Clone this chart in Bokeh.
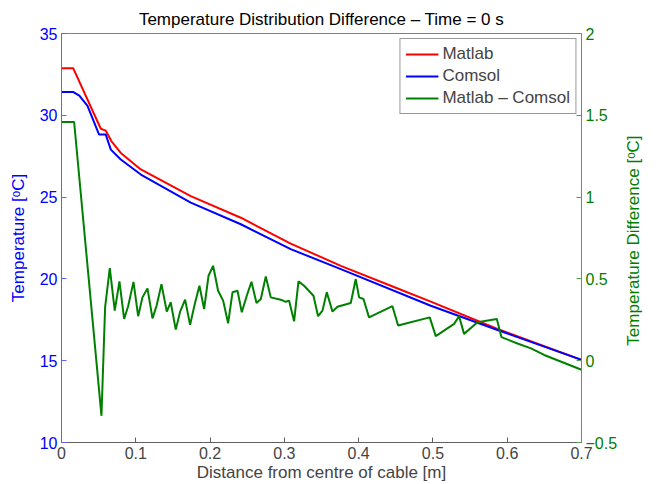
import math
from bokeh.plotting import figure
from bokeh.models import (Range1d, LinearAxis, FixedTicker, CustomJSTickFormatter,
                          Legend, LegendItem)
from bokeh.embed import file_html
from bokeh.resources import INLINE

# ---- data ----
matlab_x = [0.0, 0.0157, 0.0529, 0.0596, 0.0673, 0.0798, 0.1068, 0.174, 0.2414,
            0.3085, 0.376, 0.45, 0.4971, 0.5869, 0.7]
matlab_t = [32.88, 32.88, 29.18, 29.06, 28.41, 27.7, 26.69, 25.06, 23.74,
            22.16, 20.80, 19.46, 18.61, 16.94, 15.05]

comsol_x = [0.0, 0.016, 0.024, 0.035, 0.0506, 0.0596, 0.0664, 0.0798, 0.1068,
            0.174, 0.2414, 0.3085, 0.376, 0.4971, 0.5869, 0.7]
comsol_t = [31.42, 31.42, 31.2, 30.58, 28.82, 28.82, 27.9, 27.3, 26.38,
            24.66, 23.34, 21.82, 20.6, 18.36, 16.88, 15.05]

diff_x = [0.0, 0.017, 0.0538, 0.0587, 0.065, 0.0717, 0.078, 0.0843, 0.0897, 0.0969,
          0.1032, 0.109, 0.1157, 0.1225, 0.128, 0.1346, 0.1417, 0.147, 0.1538, 0.1597,
          0.1664, 0.1731, 0.1794, 0.1857, 0.192, 0.1979, 0.2041, 0.2108, 0.2176, 0.2243,
          0.2302, 0.2369, 0.2427, 0.2494, 0.2557, 0.2625, 0.2683, 0.275, 0.2817, 0.2952,
          0.3019, 0.3064, 0.3131, 0.319, 0.3266, 0.3392, 0.3454, 0.3513, 0.3571, 0.3648,
          0.3715, 0.3894, 0.3961, 0.4006, 0.4065, 0.414, 0.4455, 0.4531, 0.4957, 0.5038,
          0.5285, 0.5352, 0.5419, 0.560, 0.586, 0.5923, 0.6138, 0.632, 0.6497, 0.7]
diff_d = [1.459, 1.459, -0.337, 0.326, 0.566, 0.306, 0.485, 0.255, 0.333, 0.482,
          0.272, 0.387, 0.442, 0.259, 0.336, 0.468, 0.300, 0.357, 0.190, 0.300,
          0.373, 0.219, 0.347, 0.458, 0.316, 0.519, 0.580, 0.428, 0.367, 0.229,
          0.418, 0.428, 0.296, 0.397, 0.482, 0.353, 0.377, 0.515, 0.387, 0.373,
          0.360, 0.367, 0.241, 0.485, 0.458, 0.397, 0.272, 0.306, 0.418, 0.300,
          0.330, 0.353, 0.499, 0.387, 0.377, 0.265, 0.333, 0.215, 0.265, 0.150,
          0.225, 0.272, 0.164, 0.235, 0.255, 0.144, 0.105, 0.075, 0.035, -0.055]

x_ticks = [0, 0.1, 0.2, 0.3, 0.4, 0.5, 0.6, 0.7]
t_ticks = [10, 15, 20, 25, 30, 35]
d_ticks = [-0.5, 0, 0.5, 1, 1.5, 2]

FONT = "Liberation Sans"
BLUE = "#0000ff"
RED = "#ff0000"
GREEN = "#008000"
RIGHT_TITLE = "Temperature Difference [\u1d52C]"

fmt = CustomJSTickFormatter(code="return (Math.round(tick*100)/100).toString().replace('-', '\u2212');")

p = figure(width=657, height=484, output_backend="svg", toolbar_location=None,
           x_range=Range1d(0, 0.7), y_range=Range1d(10, 35),
           min_border_left=61, min_border_right=76, min_border_top=33, min_border_bottom=40,
           title="Temperature Distribution Difference \u2013 Time = 0 s")
p.extra_y_ranges = {"diff": Range1d(-0.5, 2)}

p.title.align = "center"
p.title.text_font = FONT
p.title.text_font_size = "17px"
p.title.text_font_style = "normal"
p.title.text_color = "#000000"
p.title.standoff = 10

p.grid.visible = False
p.outline_line_color = "#808080"
p.outline_line_width = 1
p.background_fill_color = "white"
p.border_fill_color = "white"

r_m = p.line(matlab_x, matlab_t, line_color=RED, line_width=2)
r_c = p.line(comsol_x, comsol_t, line_color=BLUE, line_width=2)
r_d = p.line(diff_x, diff_d, line_color=GREEN, line_width=2, y_range_name="diff")

# bottom axis
xa = p.xaxis[0]
xa.ticker = FixedTicker(ticks=x_ticks)
xa.formatter = fmt
xa.axis_label = "Distance from centre of cable [m]"
xa.axis_label_text_font = FONT
xa.axis_label_text_font_size = "17px"
xa.axis_label_text_font_style = "normal"
xa.axis_label_standoff = 1
xa.major_label_text_font = FONT
xa.major_label_text_font_size = "16px"
xa.major_label_standoff = 4
xa.major_tick_in = 5
xa.major_tick_out = 0
xa.minor_tick_in = 0
xa.minor_tick_out = 0
xa.axis_line_color = "#606060"
xa.major_tick_line_color = "#606060"

# left axis
ya = p.yaxis[0]
ya.ticker = FixedTicker(ticks=t_ticks)
ya.formatter = fmt
ya.axis_label = "Temperature [\u1d52C]"
ya.axis_label_text_font = FONT
ya.axis_label_text_font_size = "17px"
ya.axis_label_text_font_style = "normal"
ya.axis_label_text_color = BLUE
ya.axis_label_standoff = 9
ya.major_label_text_font = FONT
ya.major_label_text_font_size = "16px"
ya.major_label_text_color = BLUE
ya.major_label_standoff = 4
ya.major_tick_in = 5
ya.major_tick_out = 0
ya.minor_tick_in = 0
ya.minor_tick_out = 0
ya.axis_line_color = "#6060ff"
ya.major_tick_line_color = "#6060ff"

# right axis (ticks)
ra = LinearAxis(y_range_name="diff", ticker=FixedTicker(ticks=d_ticks), formatter=fmt)
ra.major_label_text_font = FONT
ra.major_label_text_font_size = "16px"
ra.major_label_text_color = GREEN
ra.major_label_standoff = 4
ra.major_tick_in = 5
ra.major_tick_out = 0
ra.minor_tick_in = 0
ra.minor_tick_out = 0
ra.axis_line_color = "#50a050"
ra.major_tick_line_color = "#50a050"
p.add_layout(ra, "right")

# right axis title, reading bottom to top as in the original
# (drawn as a single rotated label anchored where the text starts)
title_fmt = CustomJSTickFormatter(code="return '" + RIGHT_TITLE + "';")
ra2 = LinearAxis(y_range_name="diff", ticker=FixedTicker(ticks=[0.092]), formatter=title_fmt)
ra2.major_label_orientation = math.pi / 2
ra2.major_label_text_font = FONT
ra2.major_label_text_font_size = "17px"
ra2.major_label_text_color = GREEN
ra2.major_label_standoff = 13
ra2.major_tick_in = 0
ra2.major_tick_out = 0
ra2.minor_tick_in = 0
ra2.minor_tick_out = 0
ra2.axis_line_color = None
ra2.major_tick_line_color = None
ra2.minor_tick_line_color = None
p.add_layout(ra2, "right")

legend = Legend(items=[LegendItem(label="Matlab", renderers=[r_m]),
                       LegendItem(label="Comsol", renderers=[r_c]),
                       LegendItem(label="Matlab \u2013 Comsol", renderers=[r_d])],
                location="top_right")
legend.margin = 5
legend.padding = 5
legend.spacing = 2
legend.glyph_width = 33
legend.glyph_height = 20
legend.label_height = 20
legend.label_standoff = 4
legend.label_text_font = FONT
legend.label_text_font_size = "17px"
legend.border_line_color = "#333333"
legend.border_line_width = 1
legend.background_fill_alpha = 1.0
p.add_layout(legend, "center")

open("out.html", "w").write(file_html(p, INLINE))
